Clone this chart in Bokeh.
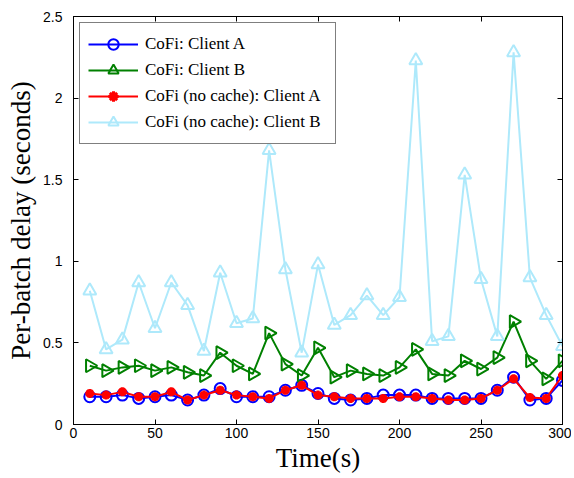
import math
from bokeh.plotting import figure
from bokeh.models import LinearAxis, FixedTicker, Range1d
from bokeh.embed import file_html
from bokeh.resources import INLINE

time_s = [10, 20, 30, 40, 50, 60, 70, 80, 90, 100, 110, 120, 130, 140, 150,
          160, 170, 180, 190, 200, 210, 220, 230, 240, 250, 260, 270, 280, 290, 300]

cofi_a = [0.17, 0.17, 0.18, 0.16, 0.17, 0.18, 0.15, 0.18, 0.22, 0.17, 0.17, 0.17, 0.21, 0.24, 0.19,
          0.16, 0.15, 0.16, 0.18, 0.18, 0.18, 0.16, 0.16, 0.16, 0.16, 0.21, 0.29, 0.15, 0.16, 0.27]
cofi_b = [0.36, 0.33, 0.35, 0.36, 0.33, 0.35, 0.32, 0.30, 0.44, 0.36, 0.31, 0.56, 0.37, 0.30, 0.47,
          0.29, 0.33, 0.31, 0.30, 0.35, 0.46, 0.31, 0.30, 0.39, 0.34, 0.41, 0.63, 0.39, 0.28, 0.39]
nocache_a = [0.19, 0.18, 0.20, 0.17, 0.17, 0.20, 0.15, 0.18, 0.21, 0.18, 0.17, 0.16, 0.21, 0.24, 0.18,
             0.17, 0.16, 0.16, 0.16, 0.17, 0.17, 0.16, 0.15, 0.15, 0.16, 0.21, 0.28, 0.165, 0.16, 0.30]
nocache_b = [0.82, 0.46, 0.52, 0.87, 0.59, 0.87, 0.73, 0.45, 0.93, 0.62, 0.65, 1.68, 0.95, 0.44, 0.98,
             0.61, 0.67, 0.79, 0.67, 0.78, 2.23, 0.51, 0.54, 1.53, 0.89, 0.54, 2.28, 0.90, 0.67, 0.48]

x_ticks = [0, 50, 100, 150, 200, 250, 300]
y_ticks = [0, 0.5, 1, 1.5, 2, 2.5]
y_tick_labels = ["0", "0.5", "1", "1.5", "2", "2.5"]

labels = ["CoFi: Client A", "CoFi: Client B", "CoFi (no cache): Client A", "CoFi (no cache): Client B"]

p = figure(width=571, height=478, output_backend="svg", toolbar_location=None,
           x_range=Range1d(0, 300), y_range=Range1d(0, 2.5),
           min_border_left=73, min_border_right=9, min_border_top=16, min_border_bottom=54)
p.grid.visible = False
p.background_fill_color = "white"
p.border_fill_color = "white"
p.outline_line_color = "black"
p.outline_line_width = 1

def style_axis(ax):
    ax.major_tick_in = 5
    ax.major_tick_out = 0
    ax.minor_tick_in = 0
    ax.minor_tick_out = 0
    ax.axis_line_color = "black"
    ax.major_tick_line_color = "black"
    ax.major_label_text_font = "Liberation Sans"
    ax.major_label_text_font_size = "14px"
    ax.major_label_text_color = "black"
    ax.major_label_standoff = 3

p.xaxis.ticker = FixedTicker(ticks=x_ticks)
p.yaxis.ticker = FixedTicker(ticks=y_ticks)
p.yaxis.major_label_overrides = {t: l for t, l in zip(y_ticks, y_tick_labels)}
style_axis(p.xaxis[0])
style_axis(p.yaxis[0])
p.yaxis.major_label_standoff = 11
p.xaxis.axis_label = "Time(s)"
p.yaxis.axis_label = "Per-batch delay (seconds)"
for ax in (p.xaxis[0], p.yaxis[0]):
    ax.axis_label_text_font = "Liberation Serif"
    ax.axis_label_text_font_size = "27px"
    ax.axis_label_text_font_style = "normal"
    ax.axis_label_text_color = "black"
p.xaxis.axis_label_standoff = 2
p.yaxis.axis_label_standoff = 4

top = LinearAxis(ticker=FixedTicker(ticks=x_ticks))
right = LinearAxis(ticker=FixedTicker(ticks=y_ticks))
style_axis(top)
style_axis(right)
top.major_label_overrides = {t: "" for t in x_ticks}
right.major_label_overrides = {t: "" for t in y_ticks}
top.major_label_standoff = 0
right.major_label_standoff = 0
p.add_layout(top, "above")
p.add_layout(right, "right")

blue = "#0000ff"
green = "#008000"
red = "#ff0000"
lblue = "#aee9fb"

p.line(time_s, cofi_a, color=blue, line_width=2, legend_label=labels[0])
p.scatter(time_s, cofi_a, marker="circle", size=11, line_color=blue, fill_color=None, line_width=2,
          legend_label=labels[0])

p.line(time_s, cofi_b, color=green, line_width=2, legend_label=labels[1])
p.scatter(time_s, cofi_b, marker="triangle", angle=-math.pi / 2, size=13, line_color=green,
          fill_color=None, line_width=2, legend_label=labels[1])

p.line(time_s, nocache_a, color=red, line_width=2, legend_label=labels[2])
p.scatter(time_s, nocache_a, marker="asterisk", size=9, line_color=red, line_width=3,
          legend_label=labels[2])

p.line(time_s, nocache_b, color=lblue, line_width=2, legend_label=labels[3])
p.scatter(time_s, nocache_b, marker="triangle", size=13, line_color=lblue, fill_color=None,
          line_width=2, legend_label=labels[3])

lg = p.legend[0]
lg.location = "top_left"
lg.margin = 6
lg.padding = 8
lg.spacing = 0
lg.label_height = 26
lg.glyph_height = 26
lg.glyph_width = 50
lg.label_width = 182
lg.label_standoff = 7
lg.label_text_font = "Liberation Serif"
lg.label_text_font_size = "17px"
lg.label_text_color = "black"
lg.border_line_color = "black"
lg.border_line_width = 1
lg.background_fill_alpha = 1

open("out.html", "w").write(file_html(p, INLINE))
